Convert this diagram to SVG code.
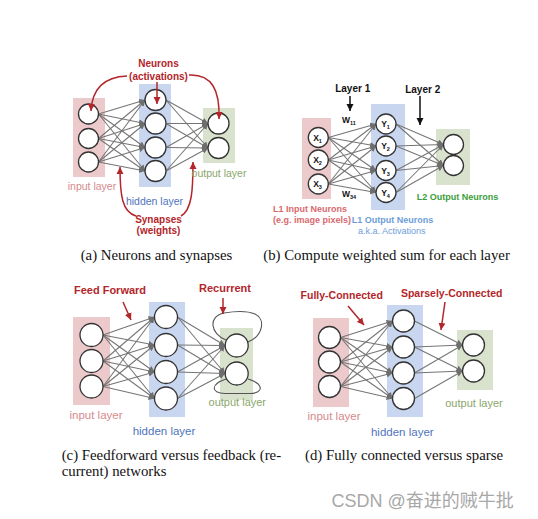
<svg xmlns="http://www.w3.org/2000/svg" width="538" height="519" viewBox="0 0 538 519">
<defs>
<marker id="ga" markerUnits="userSpaceOnUse" markerWidth="6" markerHeight="6" refX="6" refY="3" orient="auto"><path d="M0,0 L6,3 L0,6 z" fill="#6e6e6e"/></marker>
<marker id="ra" markerUnits="userSpaceOnUse" markerWidth="8" markerHeight="8" refX="7" refY="4" orient="auto"><path d="M0,0.5 L7,4 L0,7.5 z" fill="#b3262b"/></marker>
<marker id="ka" markerUnits="userSpaceOnUse" markerWidth="8" markerHeight="8" refX="7" refY="4" orient="auto"><path d="M0,0.5 L7,4 L0,7.5 z" fill="#111"/></marker>
</defs>
<style>
.in{fill:#ecc9ca}
.hid{fill:#c8d6f0}
.out{fill:#d8e2cd}
.n circle{fill:#fff;stroke:#333;stroke-width:1.3}
.c line{stroke:#757575;stroke-width:1.05;marker-end:url(#ga)}
.ra{fill:none;stroke:#b3262b;stroke-width:1.5;marker-end:url(#ra)}
.ka{fill:none;stroke:#111;stroke-width:1.5;marker-end:url(#ka)}
.loop{fill:none;stroke:#555;stroke-width:1.1}
.s{font-family:"Liberation Sans",Arial,sans-serif}
.lbl{font-family:"Liberation Sans",Arial,sans-serif;text-anchor:middle}
.red{fill:#b3262b;font-weight:bold}
.pi{fill:#d48a8d}
.bh{fill:#4f74bd}
.go{fill:#8ba76b}
.cap{font-family:"Liberation Serif","Times New Roman",serif;font-size:14.8px;fill:#111}
.xy{font-family:"Liberation Sans",Arial,sans-serif;font-weight:bold;font-size:8.5px;text-anchor:middle;fill:#111}
</style>
<rect width="538" height="519" fill="#fff"/>

<!-- layer backgrounds -->
<rect class="in" x="73" y="98" width="32" height="79"/>
<rect class="hid" x="139" y="84" width="32" height="103"/>
<rect class="out" x="203" y="108" width="32" height="55"/>
<rect class="in" x="302" y="118" width="29" height="81"/>
<rect class="hid" x="371" y="104" width="34" height="106"/>
<rect class="out" x="436" y="129" width="34" height="56"/>
<rect class="in" x="73" y="317" width="37" height="88"/>
<rect class="hid" x="149" y="302" width="36" height="115"/>
<rect class="out" x="220" y="328" width="33" height="72"/>
<rect class="in" x="313" y="318" width="36" height="89"/>
<rect class="hid" x="387" y="305" width="36" height="112"/>
<rect class="out" x="457" y="330" width="36" height="60"/>

<g id="connectors" class="c">
<!-- a -->
<line x1="98.5" y1="114" x2="145" y2="100"/><line x1="98.5" y1="114" x2="145" y2="123.5"/><line x1="98.5" y1="114" x2="145" y2="147.5"/><line x1="98.5" y1="114" x2="145" y2="171"/>
<line x1="98.5" y1="138.5" x2="145" y2="100"/><line x1="98.5" y1="138.5" x2="145" y2="123.5"/><line x1="98.5" y1="138.5" x2="145" y2="147.5"/><line x1="98.5" y1="138.5" x2="145" y2="171"/>
<line x1="98.5" y1="162" x2="145" y2="100"/><line x1="98.5" y1="162" x2="145" y2="123.5"/><line x1="98.5" y1="162" x2="145" y2="147.5"/><line x1="98.5" y1="162" x2="145" y2="171"/>
<line x1="166" y1="100" x2="208" y2="123.5"/><line x1="166" y1="100" x2="208" y2="148"/>
<line x1="166" y1="123.5" x2="208" y2="123.5"/><line x1="166" y1="123.5" x2="208" y2="148"/>
<line x1="166" y1="147.5" x2="208" y2="123.5"/><line x1="166" y1="147.5" x2="208" y2="148"/>
<line x1="166" y1="171" x2="208" y2="123.5"/><line x1="166" y1="171" x2="208" y2="148"/>
<!-- b -->
<line x1="328.3" y1="137.5" x2="376" y2="124"/><line x1="328.3" y1="137.5" x2="376" y2="146"/><line x1="328.3" y1="137.5" x2="376" y2="170.5"/><line x1="328.3" y1="137.5" x2="376" y2="192.5"/>
<line x1="328.3" y1="160" x2="376" y2="124"/><line x1="328.3" y1="160" x2="376" y2="146"/><line x1="328.3" y1="160" x2="376" y2="170.5"/><line x1="328.3" y1="160" x2="376" y2="192.5"/>
<line x1="328.3" y1="184" x2="376" y2="124"/><line x1="328.3" y1="184" x2="376" y2="146"/><line x1="328.3" y1="184" x2="376" y2="170.5"/><line x1="328.3" y1="184" x2="376" y2="192.5"/>
<line x1="396" y1="124" x2="443.5" y2="144.5"/><line x1="396" y1="124" x2="443.5" y2="165.5"/>
<line x1="396" y1="146" x2="443.5" y2="144.5"/><line x1="396" y1="146" x2="443.5" y2="165.5"/>
<line x1="396" y1="170.5" x2="443.5" y2="144.5"/><line x1="396" y1="170.5" x2="443.5" y2="165.5"/>
<line x1="396" y1="192.5" x2="443.5" y2="144.5"/><line x1="396" y1="192.5" x2="443.5" y2="165.5"/>
<!-- c -->
<line x1="103" y1="335" x2="154.5" y2="317"/><line x1="103" y1="335" x2="154.5" y2="345"/><line x1="103" y1="335" x2="154.5" y2="372"/><line x1="103" y1="335" x2="154.5" y2="398.5"/>
<line x1="103" y1="361" x2="154.5" y2="317"/><line x1="103" y1="361" x2="154.5" y2="345"/><line x1="103" y1="361" x2="154.5" y2="372"/><line x1="103" y1="361" x2="154.5" y2="398.5"/>
<line x1="103" y1="386.5" x2="154.5" y2="317"/><line x1="103" y1="386.5" x2="154.5" y2="345"/><line x1="103" y1="386.5" x2="154.5" y2="372"/><line x1="103" y1="386.5" x2="154.5" y2="398.5"/>
<line x1="177.5" y1="317" x2="225" y2="345.5"/><line x1="177.5" y1="317" x2="225" y2="373.5"/>
<line x1="177.5" y1="345" x2="225" y2="345.5"/><line x1="177.5" y1="345" x2="225" y2="373.5"/>
<line x1="177.5" y1="372" x2="225" y2="345.5"/><line x1="177.5" y1="372" x2="225" y2="373.5"/>
<line x1="177.5" y1="398.5" x2="225" y2="345.5"/><line x1="177.5" y1="398.5" x2="225" y2="373.5"/>
<!-- d -->
<line x1="340.5" y1="337.5" x2="392.5" y2="321"/><line x1="340.5" y1="337.5" x2="392.5" y2="347"/><line x1="340.5" y1="337.5" x2="392.5" y2="373"/><line x1="340.5" y1="337.5" x2="392.5" y2="398.5"/>
<line x1="340.5" y1="362" x2="392.5" y2="321"/><line x1="340.5" y1="362" x2="392.5" y2="347"/><line x1="340.5" y1="362" x2="392.5" y2="373"/><line x1="340.5" y1="362" x2="392.5" y2="398.5"/>
<line x1="340.5" y1="386.5" x2="392.5" y2="321"/><line x1="340.5" y1="386.5" x2="392.5" y2="347"/><line x1="340.5" y1="386.5" x2="392.5" y2="373"/><line x1="340.5" y1="386.5" x2="392.5" y2="398.5"/>
<line x1="414.5" y1="321" x2="462.5" y2="345"/>
<line x1="414.5" y1="347" x2="462.5" y2="345"/><line x1="414.5" y1="347" x2="462.5" y2="371"/>
<line x1="414.5" y1="373" x2="462.5" y2="345"/><line x1="414.5" y1="373" x2="462.5" y2="371"/>
<line x1="414.5" y1="398.5" x2="462.5" y2="371"/>
<!-- recurrent loops -->
<path class="loop" d="M226,340 C210,334 208,316 224,313 C236,311 248,311 255,314 C266,319 263,336 248,342"/>
<path class="loop" d="M226,379 C211,384 210,393 225,393.5 L250,393.5 C264,393 264,384 248,379"/>
</g>

<!-- panel a nodes -->
<g id="a-in1" class="n"><circle cx="88.5" cy="114" r="10"/></g>
<g id="a-in2" class="n"><circle cx="88.5" cy="138.5" r="10"/></g>
<g id="a-in3" class="n"><circle cx="88.5" cy="162" r="10"/></g>
<g id="a-h1" class="n"><circle cx="155.5" cy="100" r="10.5"/></g>
<g id="a-h2" class="n"><circle cx="155.5" cy="123.5" r="10.5"/></g>
<g id="a-h3" class="n"><circle cx="155.5" cy="147.5" r="10.5"/></g>
<g id="a-h4" class="n"><circle cx="155.5" cy="171" r="10.5"/></g>
<g id="a-o1" class="n"><circle cx="218.5" cy="123.5" r="10.5"/></g>
<g id="a-o2" class="n"><circle cx="218.5" cy="148" r="10.5"/></g>

<!-- panel b nodes -->
<g id="b-x1" class="n"><circle cx="318.3" cy="137.5" r="10"/><text class="xy" x="317.5" y="140.5">X<tspan font-size="5.5" dy="2">1</tspan></text></g>
<g id="b-x2" class="n"><circle cx="318.3" cy="160" r="10"/><text class="xy" x="317.5" y="163">X<tspan font-size="5.5" dy="2">2</tspan></text></g>
<g id="b-x3" class="n"><circle cx="318.3" cy="184" r="10"/><text class="xy" x="317.5" y="187">X<tspan font-size="5.5" dy="2">3</tspan></text></g>
<g id="b-y1" class="n"><circle cx="386" cy="124" r="10"/><text class="xy" x="385.5" y="127">Y<tspan font-size="5.5" dy="2">1</tspan></text></g>
<g id="b-y2" class="n"><circle cx="386" cy="146" r="10"/><text class="xy" x="385.5" y="149">Y<tspan font-size="5.5" dy="2">2</tspan></text></g>
<g id="b-y3" class="n"><circle cx="386" cy="170.5" r="10"/><text class="xy" x="385.5" y="173.5">Y<tspan font-size="5.5" dy="2">3</tspan></text></g>
<g id="b-y4" class="n"><circle cx="386" cy="192.5" r="10"/><text class="xy" x="385.5" y="195.5">Y<tspan font-size="5.5" dy="2">4</tspan></text></g>
<g id="b-o1" class="n"><circle cx="453.5" cy="144.5" r="10"/></g>
<g id="b-o2" class="n"><circle cx="453.5" cy="165.5" r="10"/></g>

<!-- panel c nodes -->
<g id="c-in1" class="n"><circle cx="91.5" cy="335" r="11.5"/></g>
<g id="c-in2" class="n"><circle cx="91.5" cy="361" r="11.5"/></g>
<g id="c-in3" class="n"><circle cx="91.5" cy="386.5" r="11.5"/></g>
<g id="c-h1" class="n"><circle cx="166" cy="317" r="11.5"/></g>
<g id="c-h2" class="n"><circle cx="166" cy="345" r="11.5"/></g>
<g id="c-h3" class="n"><circle cx="166" cy="372" r="11.5"/></g>
<g id="c-h4" class="n"><circle cx="166" cy="398.5" r="11.5"/></g>
<g id="c-o1" class="n"><circle cx="236.7" cy="345.5" r="11.5"/></g>
<g id="c-o2" class="n"><circle cx="236.7" cy="373.5" r="11.5"/></g>

<!-- panel d nodes -->
<g id="d-in1" class="n"><circle cx="329.5" cy="337.5" r="11"/></g>
<g id="d-in2" class="n"><circle cx="329.5" cy="362" r="11"/></g>
<g id="d-in3" class="n"><circle cx="329.5" cy="386.5" r="11"/></g>
<g id="d-h1" class="n"><circle cx="403.5" cy="321" r="11"/></g>
<g id="d-h2" class="n"><circle cx="403.5" cy="347" r="11"/></g>
<g id="d-h3" class="n"><circle cx="403.5" cy="373" r="11"/></g>
<g id="d-h4" class="n"><circle cx="403.5" cy="398.5" r="11"/></g>
<g id="d-o1" class="n"><circle cx="473.5" cy="345" r="11"/></g>
<g id="d-o2" class="n"><circle cx="473.5" cy="371" r="11"/></g>

<!-- annotation arrows -->
<path class="ra" d="M127,76 C101,77 92,92 91,111"/>
<path class="ra" d="M157,82 L157,104"/>
<path class="ra" d="M189,75 C212,74 220,90 219,119"/>
<path class="ra" d="M136,216 C122,212 120,195 120,167"/>
<path class="ra" d="M181,216 C192,210 193,190 193,162"/>
<path class="ka" d="M350,96 L350,111"/>
<path class="ka" d="M420,96 L420,125"/>
<path class="ra" d="M123,302 L131,320"/>
<path class="ra" d="M223,298 L223,314"/>
<path class="ra" d="M348,306 L364,325"/>
<path class="ra" d="M445,302 L441,330"/>

<!-- panel a labels -->
<text class="lbl red" x="158.5" y="67" font-size="10">Neurons</text>
<text class="lbl red" x="158.5" y="79.5" font-size="10">(activations)</text>
<text class="lbl red" x="158.5" y="222.5" font-size="10">Synapses</text>
<text class="lbl red" x="158.5" y="234" font-size="10">(weights)</text>
<text class="lbl pi" x="92" y="190" font-size="10.5">input layer</text>
<text class="lbl bh" x="154.5" y="204.5" font-size="10.5">hidden layer</text>
<text class="lbl go" x="219" y="177" font-size="10.5">output layer</text>

<!-- panel b labels -->
<text class="lbl" x="352.7" y="91.5" font-size="10" font-weight="bold" fill="#111">Layer 1</text>
<text class="lbl" x="422.7" y="92.5" font-size="10" font-weight="bold" fill="#111">Layer 2</text>
<text class="s" x="342" y="123" font-size="8.5" font-weight="bold" fill="#111">W<tspan font-size="5.5" dy="1.5">11</tspan></text>
<text class="s" x="342" y="197" font-size="8.5" font-weight="bold" fill="#111">W<tspan font-size="5.5" dy="1.5">34</tspan></text>
<text class="s" x="273" y="211.5" font-size="9" font-weight="bold" fill="#d9696e">L1 Input Neurons</text>
<text class="s" x="273" y="222.5" font-size="9" font-weight="bold" fill="#d9696e">(e.g. image pixels)</text>
<text class="s" x="351.7" y="222.5" font-size="9" font-weight="bold" fill="#6d9dd8">L1 Output Neurons</text>
<text class="lbl" x="391.7" y="234" font-size="9" fill="#6d9dd8">a.k.a. Activations</text>
<text class="s" x="416.7" y="199.5" font-size="9" font-weight="bold" fill="#3b9e3b">L2 Output Neurons</text>

<!-- panel c labels -->
<text class="lbl red" x="110" y="294" font-size="11">Feed Forward</text>
<text class="lbl red" x="225" y="291.5" font-size="11">Recurrent</text>
<text class="lbl pi" x="96" y="419" font-size="11.5">input layer</text>
<text class="lbl bh" x="164" y="435" font-size="11.5">hidden layer</text>
<text class="lbl go" x="237.3" y="406" font-size="11">output layer</text>

<!-- panel d labels -->
<text class="lbl red" x="341.7" y="299" font-size="10.5">Fully-Connected</text>
<text class="lbl red" x="451.7" y="297" font-size="10.5">Sparsely-Connected</text>
<text class="lbl pi" x="334" y="420" font-size="11.5">input layer</text>
<text class="lbl bh" x="402.3" y="436" font-size="11.5">hidden layer</text>
<text class="lbl go" x="474" y="407" font-size="11">output layer</text>

<!-- captions -->
<text class="cap" x="80.7" y="259.5">(a) Neurons and synapses</text>
<text class="cap" x="263.3" y="259.5">(b) Compute weighted sum for each layer</text>
<text class="cap" x="61.7" y="459.5">(c) Feedforward versus feedback (re-</text>
<text class="cap" x="61.7" y="476">current) networks</text>
<text class="cap" x="305" y="459.5">(d) Fully connected versus sparse</text>
<text x="331.5" y="507" font-family="Liberation Sans,'Noto Sans CJK SC',sans-serif" font-size="18" fill="#a8a8a8">CSDN @奋进的贼牛批</text>
</svg>
